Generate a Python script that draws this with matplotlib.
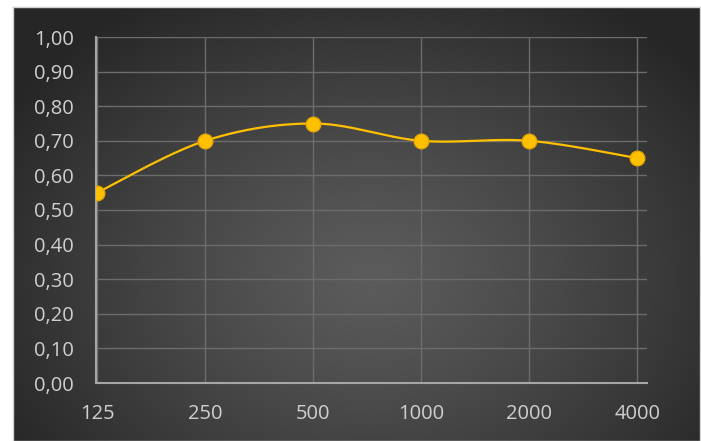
import matplotlib
matplotlib.use('Agg')
import matplotlib.pyplot as plt
import numpy as np

freqs = ['125', '250', '500', '1000', '2000', '4000']
values = [0.55, 0.70, 0.75, 0.70, 0.70, 0.65]
yticks = [0.0, 0.1, 0.2, 0.3, 0.4, 0.5, 0.6, 0.7, 0.8, 0.9, 1.0]


def smooth_curve(x, y, n=40):
    # Excel-style smoothing: cubic Bezier through the points, Catmull-Rom tangents
    x = np.asarray(x, float)
    y = np.asarray(y, float)
    px = np.concatenate([[x[0]], x, [x[-1]]])
    py = np.concatenate([[y[0]], y, [y[-1]]])
    t = np.linspace(0, 1, n)
    xs, ys = [], []
    for i in range(1, len(px) - 2):
        p0 = np.array([px[i], py[i]])
        p3 = np.array([px[i + 1], py[i + 1]])
        p1 = p0 + (np.array([px[i + 1], py[i + 1]]) - np.array([px[i - 1], py[i - 1]])) / 6
        p2 = p3 - (np.array([px[i + 2], py[i + 2]]) - np.array([px[i], py[i]])) / 6
        b = ((1 - t) ** 3)[:, None] * p0 + (3 * (1 - t) ** 2 * t)[:, None] * p1 \
            + (3 * (1 - t) * t ** 2)[:, None] * p2 + (t ** 3)[:, None] * p3
        xs.append(b[:, 0])
        ys.append(b[:, 1])
    return np.concatenate(xs), np.concatenate(ys)


fig = plt.figure(figsize=(7.01, 4.41), dpi=100)
fig.patch.set_facecolor('white')

# dark radial background of the chart area
bg = fig.add_axes([13 / 701, 0, 687 / 701, 434 / 441])
h, w = 434, 687
yy, xx = np.mgrid[0:h, 0:w]
cx, cy = w * 0.52, h * 0.62
r = np.sqrt(((xx - cx) / (w * 0.62)) ** 2 + ((yy - cy) / (h * 0.75)) ** 2)
r = np.clip(r, 0, 1)
lum = 0.36 - (0.36 - 0.15) * r ** 1.2
img = np.dstack([lum, lum, lum])
bg.imshow(img, aspect='auto', extent=[0, 1, 0, 1], origin='upper')
bg.set_xlim(0, 1)
bg.set_ylim(0, 1)
bg.set_xticks([])
bg.set_yticks([])
for s in bg.spines.values():
    s.set_color('#d0d0d0')
    s.set_linewidth(1)

ax = fig.add_axes([96 / 701, 1 - 383 / 441, 551 / 701, 346 / 441])
ax.set_facecolor('none')

xpos = np.arange(len(freqs))
sx, sy = smooth_curve(xpos, values)
ax.plot(sx, sy, color='#FFC000', lw=1.6, zorder=3, solid_capstyle='round')
ax.plot(xpos, values, 'o', ms=10.5, color='#FFC000', mec='#E8A800', mew=1, zorder=4)

ax.set_xlim(-0.01, 5.09)
ax.set_ylim(0, 1.0)
ax.set_xticks(xpos)
ax.set_xticklabels(freqs)
ax.set_yticks(yticks)
ax.set_yticklabels([f'{v:.2f}'.replace('.', ',') for v in yticks])

ax.grid(True, color='#6c6c6c', lw=1)
ax.set_axisbelow(True)
for side in ['top', 'right']:
    ax.spines[side].set_visible(False)
for side in ['left', 'bottom']:
    ax.spines[side].set_color('#a6a6a6')
    ax.spines[side].set_linewidth(1.5)
ax.tick_params(length=0, colors='#cfcfcf', labelsize=14.5)
ax.tick_params(axis='y', pad=16)
ax.tick_params(axis='x', pad=15)
for lab in ax.get_xticklabels() + ax.get_yticklabels():
    lab.set_fontfamily(['Open Sans', 'DejaVu Sans'])

fig.savefig('out.png', dpi=100, facecolor=fig.get_facecolor())
